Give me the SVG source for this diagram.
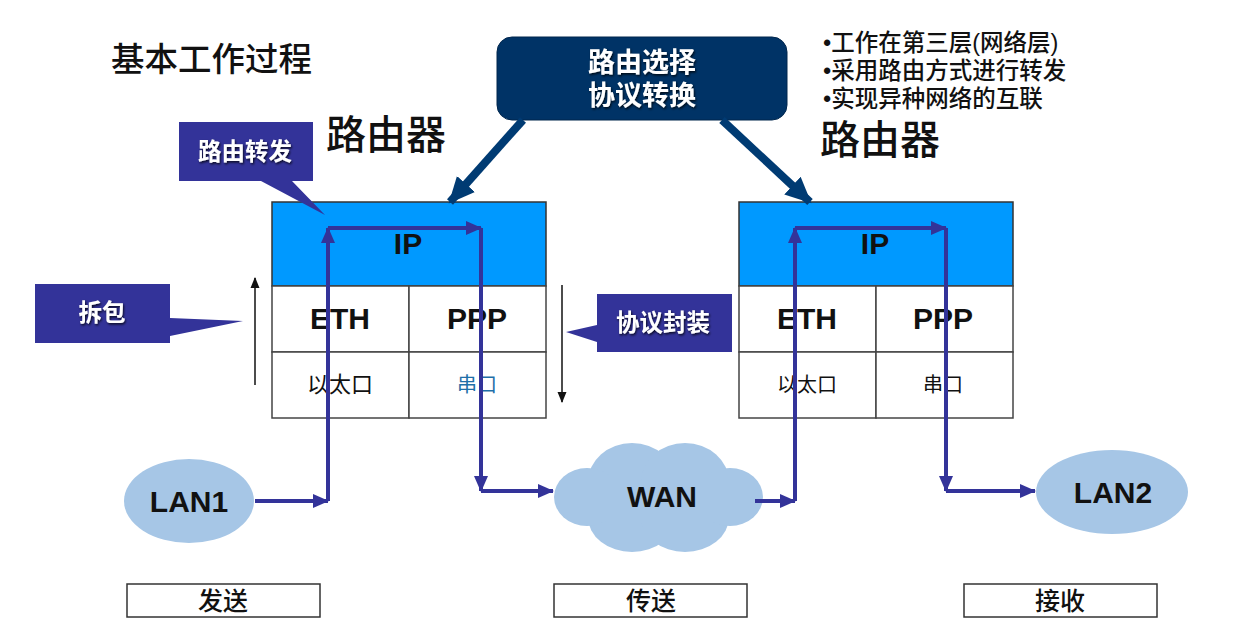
<svg xmlns="http://www.w3.org/2000/svg" width="1234" height="644" viewBox="0 0 1234 644">
<style>
text{font-family:"Liberation Sans","Noto Sans CJK SC",sans-serif;fill:#111}
.cj{font-family:"Noto Sans CJK SC","Liberation Sans",sans-serif}
.cell{fill:#fff;stroke:#444;stroke-width:1.5}
.ip{fill:#0099ff;stroke:#333;stroke-width:1.5}
.call{fill:#333399}
.callt{fill:#fff;font-size:23.5px;font-weight:700;filter:url(#sh);text-anchor:middle;font-family:"Noto Sans CJK SC",sans-serif}
.proto{font-size:30px;font-weight:700;text-anchor:middle}
.port{font-size:20px;text-anchor:middle;font-family:"Noto Sans CJK SC",sans-serif}
.big{font-size:40px;font-weight:500;font-family:"Noto Sans CJK SC",sans-serif}
.bul{font-size:23.5px;font-weight:500;font-family:"Liberation Sans","Noto Sans CJK SC",sans-serif}
.net{fill:#a6c6e6}
.nett{font-size:30px;font-weight:700;text-anchor:middle}
.lab{fill:#fff;stroke:#333;stroke-width:1.5}
.labt{font-size:25px;font-weight:500;text-anchor:middle;font-family:"Noto Sans CJK SC",sans-serif}
.flow{fill:none;stroke:#333399;stroke-width:4}
.nav{fill:none;stroke:#003b73;stroke-width:8;marker-end:url(#an)}
.thin{fill:none;stroke:#111;stroke-width:1.5}
</style>
<defs>
<filter id="sh" x="-10%" y="-10%" width="125%" height="130%"><feDropShadow dx="1" dy="1.5" stdDeviation="0.8" flood-color="#000" flood-opacity="0.8"/></filter>
<marker id="ap" markerUnits="userSpaceOnUse" markerWidth="18" markerHeight="18" refX="15" refY="9" orient="auto"><path d="M0 2 L16 9 L0 16 Z" fill="#333399"/></marker>
<marker id="an" markerUnits="userSpaceOnUse" markerWidth="28" markerHeight="28" refX="24" refY="14" orient="auto"><path d="M0 2 L26 14 L0 26 Z" fill="#003b73"/></marker>
<marker id="at" markerUnits="userSpaceOnUse" markerWidth="11" markerHeight="11" refX="10" refY="5.5" orient="auto"><path d="M0 1 L11 5.5 L0 10 Z" fill="#111"/></marker>
</defs>
<rect width="1234" height="644" fill="#fff"/>
<text id="title" class="cj" x="111" y="71" font-size="33.5" font-weight="500">基本工作过程</text>
<text id="router-label-1" class="big" x="326" y="149">路由器</text>
<text id="router-label-2" class="big" x="820" y="154">路由器</text>
<g id="bullets">
<text class="bul" x="823" y="51">•工作在第三层(网络层)</text>
<text class="bul" x="823" y="79">•采用路由方式进行转发</text>
<text class="bul" x="823" y="107">•实现异种网络的互联</text>
</g>
<g id="router-1">
<rect class="ip" x="272" y="202" width="274" height="84"/>
<rect class="cell" x="272" y="286" width="137" height="66"/>
<rect class="cell" x="409" y="286" width="137" height="66"/>
<rect class="cell" x="272" y="352" width="137" height="66"/>
<rect class="cell" x="409" y="352" width="137" height="66"/>
<text class="proto" x="408" y="254">IP</text>
<text class="proto" x="340" y="329">ETH</text>
<text class="proto" x="477" y="329">PPP</text>
<text class="port" x="340" y="392" style="font-size:22px">以太口</text>
<text class="port" x="477" y="392" style="fill:#1f6fa8">串口</text>
</g>
<g id="router-2">
<rect class="ip" x="739" y="202" width="274" height="84"/>
<rect class="cell" x="739" y="286" width="137" height="66"/>
<rect class="cell" x="876" y="286" width="137" height="66"/>
<rect class="cell" x="739" y="352" width="137" height="66"/>
<rect class="cell" x="876" y="352" width="137" height="66"/>
<text class="proto" x="875" y="254">IP</text>
<text class="proto" x="807" y="329">ETH</text>
<text class="proto" x="943" y="329">PPP</text>
<text class="port" x="807" y="392">以太口</text>
<text class="port" x="943" y="392">串口</text>
</g>
<g id="routing-box">
<rect x="497" y="37" width="290" height="83" rx="15" fill="#003366" stroke="#00264d"/>
<text class="callt" style="font-size:27px"><tspan x="642" y="72">路由选择</tspan><tspan x="642" y="105">协议转换</tspan></text>
</g>
<g id="callout-forward">
<path class="call" d="M179 122 H313 V181 H292 L325 215 L261 181 H179 Z"/>
<text class="callt" x="245" y="160">路由转发</text>
</g>
<g id="callout-unpack">
<path class="call" d="M35 284 H170 V318 L243 321 L170 336 V343 H35 Z"/>
<text class="callt" x="102" y="321">拆包</text>
</g>
<g id="callout-encap">
<path class="call" d="M597 294 H732 V352 H597 V342 L566 332 L597 325 Z"/>
<text class="callt" x="663" y="331">协议封装</text>
</g>
<g id="lan1"><ellipse class="net" cx="189" cy="501" rx="65" ry="42"/><text class="nett" x="189" y="512">LAN1</text></g>
<g id="lan2"><ellipse class="net" cx="1112" cy="492" rx="76" ry="42"/><text class="nett" x="1113" y="503">LAN2</text></g>
<g id="wan">
<g class="net">
<ellipse cx="632" cy="482" rx="44" ry="39"/>
<ellipse cx="685" cy="482" rx="44" ry="39"/>
<ellipse cx="632" cy="517" rx="44" ry="35"/>
<ellipse cx="685" cy="517" rx="44" ry="35"/>
<ellipse cx="587" cy="497" rx="33" ry="29"/>
<ellipse cx="730" cy="497" rx="33" ry="29"/>
<rect x="590" y="480" width="130" height="40"/>
</g>
<text class="nett" x="662" y="507">WAN</text>
</g>
<g id="label-send"><rect class="lab" x="127" y="584" width="193" height="33"/><text class="labt" x="223" y="610">发送</text></g>
<g id="label-transfer"><rect class="lab" x="554" y="584" width="193" height="33"/><text class="labt" x="651" y="610">传送</text></g>
<g id="label-receive"><rect class="lab" x="964" y="584" width="193" height="33"/><text class="labt" x="1060" y="610">接收</text></g>
<g id="connectors">
<path class="nav" d="M523 120 L450 202"/>
<path class="nav" d="M722 120 L810 202"/>
<path class="thin" d="M255 385 V278" marker-end="url(#at)"/>
<path class="thin" d="M562 285 V402" marker-end="url(#at)"/>
<path class="flow" d="M255 501 H328" marker-end="url(#ap)"/>
<path class="flow" d="M328 501 V228" marker-end="url(#ap)"/>
<path class="flow" d="M328 228 H481" marker-end="url(#ap)"/>
<path class="flow" d="M481 228 V491" marker-end="url(#ap)"/>
<path class="flow" d="M481 491 H553" marker-end="url(#ap)"/>
<path class="flow" d="M755 501 H795" marker-end="url(#ap)"/>
<path class="flow" d="M795 501 V228" marker-end="url(#ap)"/>
<path class="flow" d="M795 228 H946" marker-end="url(#ap)"/>
<path class="flow" d="M946 228 V491" marker-end="url(#ap)"/>
<path class="flow" d="M946 491 H1035" marker-end="url(#ap)"/>
</g>
</svg>
